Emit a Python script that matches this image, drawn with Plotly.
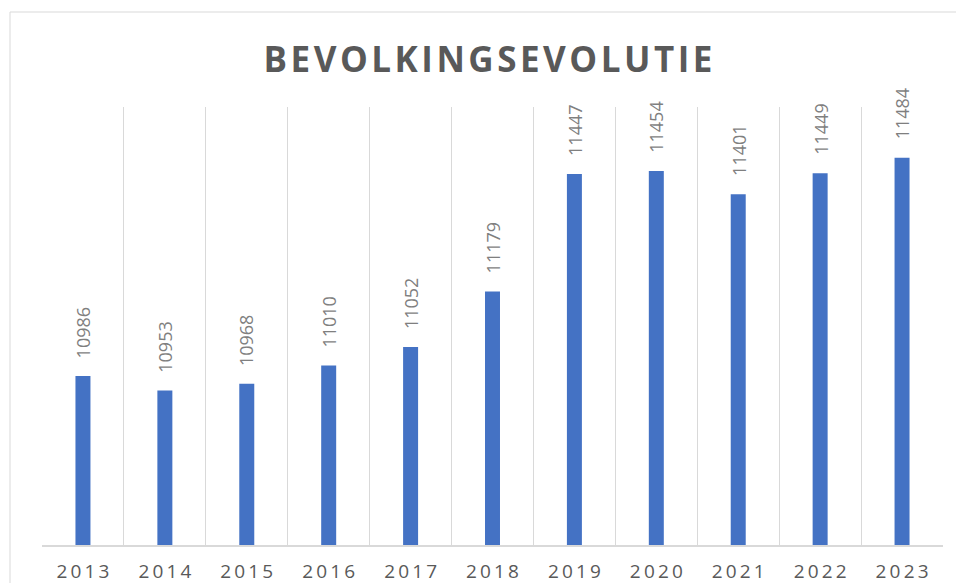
import plotly.graph_objects as go

years = ["2013", "2014", "2015", "2016", "2017", "2018", "2019", "2020", "2021", "2022", "2023"]
population = [10986, 10953, 10968, 11010, 11052, 11179, 11447, 11454, 11401, 11449, 11484]
title_text = "BEVOLKINGSEVOLUTIE"

def spaced(s, sep):
    return sep.join(list(s))

W, H = 956, 583
L, R, T, B = 42, 943, 107, 545
pw, ph = R - L, B - T
idx = list(range(len(years)))

fig = go.Figure()
fig.add_trace(go.Bar(
    x=years, y=population,
    marker=dict(color="#4472C4", line=dict(width=0)),
    hoverinfo="x+y",
))

annotations = []
for i, v in zip(idx, population):
    annotations.append(dict(
        x=i, y=v, xref="x", yref="y",
        text=str(v), textangle=-90, showarrow=False,
        xanchor="center", yanchor="bottom", yshift=17, borderpad=0,
        font=dict(family="Open Sans", size=18, color="#7f7f7f"),
    ))

fig.update_layout(
    width=W, height=H,
    margin=dict(l=L, r=W - R, t=T, b=H - B, pad=0, autoexpand=False),
    paper_bgcolor="white", plot_bgcolor="white",
    bargap=0.817,
    showlegend=False,
    title=dict(
        text=spaced(title_text, "\u200a"), x=(488 - L) / pw, xref="paper", xanchor="center",
        y=1 - 60 / H, yref="container", yanchor="middle",
        font=dict(family="Open Sans", size=35, color="#595959", weight="bold"),
    ),
    xaxis=dict(
        type="category",
        categoryorder="array", categoryarray=years,
        range=[-0.5, len(years) - 0.5],
        tickson="boundaries",
        showgrid=True, gridcolor="#d9d9d9", gridwidth=1,
        showline=True, linecolor="#d9d9d9", linewidth=2,
        ticks="", zeroline=False,
        tickangle=0, automargin=False,
        tickmode="array", tickvals=idx, ticktext=[spaced(y, "\u2009") for y in years],
        tickfont=dict(family="Open Sans", size=19, color="#595959"),
        ticklabelstandoff=8,
    ),
    yaxis=dict(
        range=[10600, 11600], visible=False, showgrid=False, zeroline=False,
        automargin=False,
    ),
    annotations=annotations,
    shapes=[dict(
        type="rect", xref="paper", yref="paper",
        x0=(10 - L) / pw, x1=(W + 10 - L) / pw,
        y0=-(H - B + 20) / ph, y1=1 + (T - 12) / ph,
        line=dict(color="#d9d9d9", width=1), fillcolor="rgba(0,0,0,0)", layer="below",
    )],
)

fig.write_html("out.html", config={"displayModeBar": False},
               post_script="document.body.style.margin='0';")
